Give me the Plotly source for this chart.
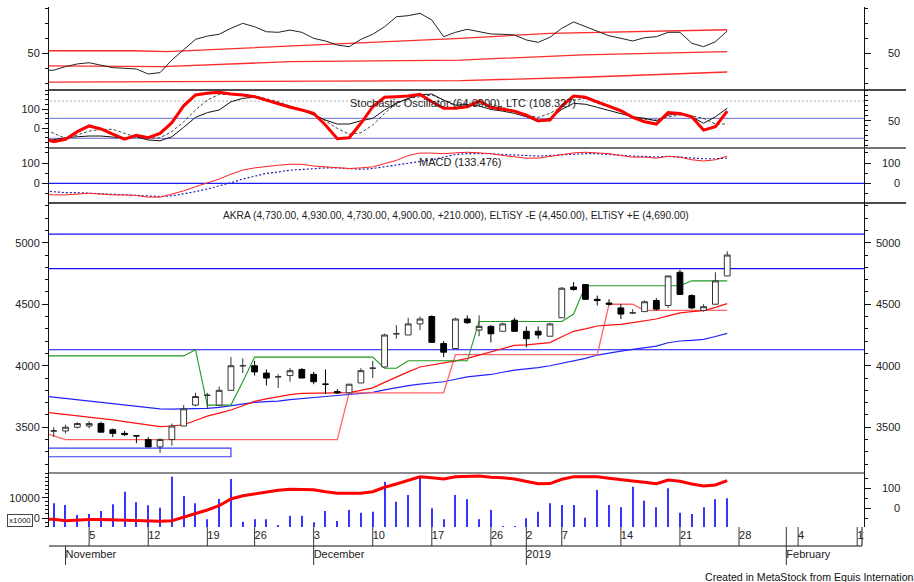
import plotly.graph_objects as go
from datetime import date

FONT = "Liberation Sans, Arial, sans-serif"
W, H = 914, 582

# ---------------- data ----------------
pre_date = "2018-10-30"
bar_dates = [
    "2018-10-31", "2018-11-01", "2018-11-02", "2018-11-05", "2018-11-06", "2018-11-07", "2018-11-08",
    "2018-11-09", "2018-11-12", "2018-11-13", "2018-11-14", "2018-11-15", "2018-11-16", "2018-11-19",
    "2018-11-21", "2018-11-22", "2018-11-23", "2018-11-26", "2018-11-27", "2018-11-28", "2018-11-29",
    "2018-11-30", "2018-12-03", "2018-12-04", "2018-12-05", "2018-12-06", "2018-12-07", "2018-12-10",
    "2018-12-11", "2018-12-12", "2018-12-13", "2018-12-14", "2018-12-17", "2018-12-18", "2018-12-19",
    "2018-12-20", "2018-12-21", "2018-12-26", "2018-12-27", "2018-12-28", "2019-01-02", "2019-01-03",
    "2019-01-04", "2019-01-07", "2019-01-08", "2019-01-09", "2019-01-10", "2019-01-11", "2019-01-14",
    "2019-01-15", "2019-01-16", "2019-01-17", "2019-01-18", "2019-01-21", "2019-01-22", "2019-01-23",
    "2019-01-24", "2019-01-25",
]
future_dates = ["2019-01-28", "2019-01-29", "2019-01-30", "2019-01-31", "2019-02-01", "2019-02-04",
                "2019-02-05", "2019-02-06", "2019-02-07", "2019-02-08", "2019-02-11"]

open_ = [3470, 3470, 3500, 3510, 3530, 3480, 3450, 3430, 3400, 3340,
         3400, 3510, 3680, 3760, 3680, 3800, 4000, 4000, 3940, 3910,
         3920, 3970, 3930, 3850, 3790, 3780, 3860, 3980, 3990, 4260,
         4250, 4340, 4400, 4180, 4140, 4380, 4290, 4320, 4280, 4370,
         4280, 4280, 4240, 4390, 4640, 4660, 4540, 4510, 4470, 4430,
         4440, 4530, 4490, 4760, 4570, 4450, 4500, 4730]
high = [3500, 3520, 3540, 3550, 3545, 3490, 3470, 3430, 3420, 3410,
        3530, 3680, 3780, 3780, 3830, 4070, 4060, 4040, 3970, 3930,
        3980, 3980, 3950, 3970, 3810, 3850, 3980, 4040, 4260, 4330,
        4390, 4400, 4410, 4200, 4390, 4410, 4410, 4330, 4350, 4390,
        4320, 4320, 4350, 4640, 4680, 4660, 4570, 4540, 4500, 4460,
        4530, 4550, 4730, 4780, 4580, 4500, 4760, 4930]
low = [3420, 3450, 3490, 3490, 3460, 3420, 3430, 3370, 3340, 3290,
       3350, 3510, 3670, 3650, 3670, 3800, 3940, 3920, 3840, 3820,
       3870, 3900, 3850, 3770, 3770, 3770, 3860, 3900, 3990, 4220,
       4250, 4290, 4190, 4070, 4140, 4340, 4240, 4190, 4280, 4280,
       4150, 4220, 4240, 4390, 4610, 4540, 4490, 4490, 4380, 4420,
       4440, 4450, 4470, 4580, 4460, 4440, 4500, 4730]
close = [3470, 3500, 3530, 3530, 3460, 3450, 3440, 3430, 3340, 3400,
         3510, 3650, 3750, 3760, 3800, 4000, 4000, 3950, 3900, 3910,
         3960, 3900, 3870, 3850, 3780, 3850, 3960, 3980, 4250, 4260,
         4340, 4380, 4190, 4110, 4380, 4350, 4320, 4260, 4340, 4280,
         4220, 4250, 4340, 4630, 4620, 4540, 4530, 4500, 4420, 4430,
         4520, 4460, 4730, 4580, 4470, 4480, 4690, 4900]

# volume, read on the left volume scale (x1000)
volume = [7280, 6440, 1490, 1980, 3470, 6780, 13020, 7770, 6290, 5100,
          20450, 10890, 7280, -640, 9410, 19310, -1830, -640, -640, -3810,
          1140, 1140, -2130, 3470, -1480, 3960, 2620, 3120, 17970, 8070,
          11390, 20150, 4800, -640, 11390, 9260, -640, 3960, -4200, -3960,
          -150, 3120, 7280, 6440, 6440, 150, 13860, 6440, 5300, 15500,
          8570, 5300, 14700, 2620, 1980, 5300, 9260, 9750]
# series below start at pre_date (one value before the first bar)
vol_line = [-53.5, -55, -62, -58.5, -56, -56, -58.5, -61, -61, -63.5, -65,
            -62, -45, -25, -8.5, 13, 46.5, 63, 73, 80, 90,
            95, 95, 93, 83, 75, 75, 75, 83, 105, 121.5,
            138, 158, 153, 146.5, 158, 161.5, 161.5, 155, 153, 146.5,
            133, 123, 123.5, 145, 158, 158, 158, 150, 141.5, 136.5,
            130, 123, 141.5, 135, 121.5, 111.5, 116.5, 138]
osc_top = [38.7, 38.7, 41.1, 42.9, 43.7, 42.2, 40.4, 40.0, 39.5, 36.2, 37.1,
           45.5, 52.7, 59.3, 61.5, 62.7, 66.7, 70.0, 67.7, 64.4, 64.0,
           65.5, 64.0, 60.0, 58.2, 55.5, 54.4, 59.3, 62.7, 67.7, 74.4,
           75.1, 76.7, 72.2, 61.1, 64.0, 66.0, 64.4, 62.9, 62.7, 62.2,
           58.9, 57.3, 60.7, 66.7, 70.9, 67.7, 64.4, 61.7, 60.0, 58.2,
           60.4, 61.1, 64.0, 64.0, 56.7, 54.4, 57.7, 64.9]
band_upper_x = [-1, 6.7, 9.6, 25.1, 34.4, 42, 57]
band_upper_y = [51.7, 51.7, 51.1, 56.7, 60.0, 63.3, 65.7]
band_mid_x = [-1, 9.2, 20, 34.4, 44.8, 57]
band_mid_y = [41.7, 41.1, 44.4, 45.5, 48.9, 51.1]
band_low_x = [-1, 9.2, 10.1, 34.4, 44.8, 57]
band_low_y = [30.7, 30.7, 31.1, 31.8, 34.0, 37.5]

stoch_k = [-51, -72, -59, -19, 11, -5, -32, -58, -38, -51, -28,
           28, 117, 174, 183, 188, 179, 174, 165, 147, 126,
           109, 95, 77, 16, -56, -51, 25, 112, 162, 165,
           168, 177, 138, 104, 104, 112, 142, 109, 98, 89,
           68, 38, 42, 116, 168, 162, 138, 116, 91, 56,
           33, 21, 81, 77, 59, -11, 7, 89]
ltc = [-72, -63, -51, -46, -42, -42, -46, -53, -46, -63, -67,
       -46, 4, 56, 81, 95, 138, 156, 162, 144, 126,
       116, 95, 68, 42, 21, 21, 38, 51, 95, 130,
       156, 174, 179, 147, 121, 121, 116, 98, 89, 77,
       59, 33, 51, 98, 130, 125, 109, 91, 74, 59,
       51, 38, 68, 77, 59, 25, 59, 104]
stoch_sig = [-2, -26, -54, -37, -16, -7, -7, -28, -49, -54, -51,
             -19, 33, 95, 147, 177, 177, 174, 170, 156, 138,
             116, 98, 77, 38, -2, -32, -25, 16, 77, 130,
             156, 165, 174, 147, 116, 133, 125, 126, 109, 86,
             68, 56, 77, 112, 147, 156, 130, 112, 86, 59,
             46, 42, 59, 68, 63, 51, 21, 21]
stoch_levels = [51, -54]
stoch_dotted = 142

macd = [-53, -57, -57, -53, -49, -53, -57, -57, -60, -68, -68,
        -53, -37, -17, 3, 21, 45, 65, 76, 84, 89,
        94, 94, 85, 81, 76, 73, 76, 81, 97, 113,
        137, 149, 149, 146, 150, 153, 150, 146, 137, 129,
        124, 124, 133, 142, 150, 153, 149, 146, 137, 129,
        129, 124, 133, 129, 116, 110, 116, 134]
macd_sig = [-37, -41, -46, -46, -49, -49, -53, -57, -60, -62, -65,
            -62, -53, -41, -28, -13, 3, 21, 35, 49, 56,
            65, 68, 73, 76, 76, 73, 69, 73, 81, 89,
            97, 105, 116, 129, 142, 146, 146, 146, 142, 141,
            137, 134, 137, 142, 146, 146, 146, 142, 137, 134,
            133, 129, 133, 129, 124, 121, 121, 124]

ma_red = [3625, 3615, 3605, 3590, 3580, 3570, 3560, 3545, 3530, 3515, 3505,
          3510, 3520, 3555, 3590, 3615, 3640, 3675, 3710, 3730, 3750,
          3765, 3775, 3778, 3780, 3780, 3782, 3800, 3820, 3865, 3910,
          3950, 3990, 4005, 4020, 4040, 4060, 4085, 4110, 4140, 4165,
          4170, 4178, 4188, 4236, 4280, 4300, 4323, 4330, 4336, 4350,
          4365, 4380, 4405, 4430, 4440, 4448, 4475, 4505]
ma_blue = [3755, 3745, 3735, 3725, 3715, 3705, 3695, 3685, 3672, 3660, 3650,
           3648, 3648, 3650, 3653, 3662, 3675, 3690, 3702, 3708, 3713,
           3725, 3735, 3743, 3750, 3758, 3767, 3775, 3783, 3804, 3824,
           3838, 3851, 3860, 3870, 3890, 3910, 3920, 3929, 3947, 3965,
           3975, 3984, 4000, 4019, 4040, 4060, 4087, 4106, 4119, 4133,
           4147, 4160, 4187, 4201, 4207, 4214, 4238, 4263]
eltisy_minus = [3460, 3430] + [3400] * 24 + [3780] * 9 + [4090] * 13 + [4500] * 3 + [4450] * 8
eltisy_plus = [4080] * 13 + [4130, 3680, 3680, 3680, 3870] + [4070] * 11 + [3980, 3980] + \
              [4040] * 6 + [4360] * 8 + [4420] + [4650] * 9 + [4690] * 4
price_levels = [5070, 4790, 4130]
box_idx = [-1, 15]
box_price = [3260, 3330]

# ---------------- geometry helpers ----------------
def py(p):
    return (H - p) / H

XL, XR = 49, 864
x_range = [-0.398, 68.576]
bar_x = list(range(len(bar_dates)))
line_x = list(range(-1, len(bar_dates)))

D1 = [py(90), py(7)]
D2 = [py(148), py(90)]
D3 = [py(203), py(148)]
D4 = [py(473), py(203)]
D5 = [py(527), py(473)]
D6 = [py(565), py(527)]

R1 = [25.5, 80.9]
R2 = [-105, 200]
R2r = [-4.6, 111.4]
R3 = [-97, 174]
R4 = [3128, 5323]
R5 = [-4455, 22277]
R5r = [-93.5, 176.5]

tickfont = dict(family=FONT, size=11, color="#222")


def yax(domain, rng, tickvals, minor_dtick, minor_tick0=0, side="left", overlay=None, labels=True):
    d = dict(domain=domain, range=rng, tickmode="array", tickvals=tickvals,
             ticktext=[str(v) for v in tickvals], ticks="outside", ticklen=6, tickwidth=1,
             tickcolor="#111", showline=True, linecolor="#111", linewidth=1, showgrid=False,
             zeroline=False, tickfont=tickfont, showticklabels=labels, side=side, anchor="x",
             fixedrange=True,
             minor=dict(ticks="outside", ticklen=3, tickcolor="#111", tickmode="linear",
                        tick0=minor_tick0, dtick=minor_dtick, showgrid=False))
    if overlay:
        d["overlaying"] = overlay
    return d


fig = go.Figure()
N = len(bar_dates)
xfull = [-1, N + 12]

# ---- panel 1 ----
for bx, by in [(band_upper_x, band_upper_y), (band_mid_x, band_mid_y), (band_low_x, band_low_y)]:
    fig.add_trace(go.Scatter(x=bx, y=by, mode="lines", line=dict(color="#ff2a2a", width=1.3),
                             xaxis="x", yaxis="y"))
fig.add_trace(go.Scatter(x=line_x, y=osc_top, mode="lines", line=dict(color="#222", width=1),
                         xaxis="x", yaxis="y"))

# ---- panel 2 ----
for lv in stoch_levels:
    fig.add_trace(go.Scatter(x=xfull, y=[lv, lv], mode="lines", line=dict(color="#6b6bdc", width=1),
                             xaxis="x", yaxis="y2"))
fig.add_trace(go.Scatter(x=xfull, y=[stoch_dotted, stoch_dotted], mode="lines",
                         line=dict(color="#b0b0b0", width=1, dash="2px,2px"), xaxis="x", yaxis="y2"))
fig.add_trace(go.Scatter(x=line_x, y=stoch_sig, mode="lines",
                         line=dict(color="#444", width=1, dash="3px,2px"), xaxis="x", yaxis="y2"))
fig.add_trace(go.Scatter(x=line_x, y=ltc, mode="lines", line=dict(color="#111", width=1),
                         xaxis="x", yaxis="y2"))
fig.add_trace(go.Scatter(x=line_x, y=stoch_k, mode="lines", line=dict(color="#ff0000", width=3),
                         xaxis="x", yaxis="y2"))

# ---- panel 3 ----
fig.add_trace(go.Scatter(x=xfull, y=[0, 0], mode="lines", line=dict(color="#1a1aff", width=1.2),
                         xaxis="x", yaxis="y3"))
fig.add_trace(go.Scatter(x=line_x, y=macd_sig, mode="lines",
                         line=dict(color="#2020b0", width=1.2, dash="2px,2px"), xaxis="x", yaxis="y3"))
fig.add_trace(go.Scatter(x=line_x, y=macd, mode="lines", line=dict(color="#ff2020", width=1),
                         xaxis="x", yaxis="y3"))

# ---- panel 4 ----
for lv in price_levels:
    fig.add_trace(go.Scatter(x=xfull, y=[lv, lv], mode="lines", line=dict(color="#1010ff", width=1.2),
                             xaxis="x", yaxis="y4"))
fig.add_trace(go.Scatter(x=[box_idx[0], box_idx[1], box_idx[1], box_idx[0]],
                         y=[box_price[1], box_price[1], box_price[0], box_price[0]],
                         mode="lines", line=dict(color="#3a3aff", width=1.2), xaxis="x", yaxis="y4"))
fig.add_trace(go.Scatter(x=line_x, y=ma_blue, mode="lines", line=dict(color="#2222ff", width=1.2),
                         xaxis="x", yaxis="y4"))
fig.add_trace(go.Scatter(x=line_x, y=eltisy_minus, mode="lines", line=dict(color="#ff6464", width=1.3),
                         xaxis="x", yaxis="y4"))
fig.add_trace(go.Scatter(x=line_x, y=ma_red, mode="lines", line=dict(color="#ff1010", width=1.2),
                         xaxis="x", yaxis="y4"))
fig.add_trace(go.Scatter(x=line_x, y=eltisy_plus, mode="lines", line=dict(color="#1f9a1f", width=1.1),
                         xaxis="x", yaxis="y4"))
fig.add_trace(go.Candlestick(x=bar_x, open=open_, high=high, low=low, close=close,
                             increasing=dict(line=dict(color="#333", width=1), fillcolor="white"),
                             decreasing=dict(line=dict(color="#000", width=1), fillcolor="black"),
                             whiskerwidth=0, xaxis="x", yaxis="y9"))

# ---- panel 5 ----
fig.add_trace(go.Bar(x=bar_x, y=[v - R5[0] for v in volume], base=R5[0], width=0.09,
                     marker=dict(color="#3535ff", line=dict(width=0)), xaxis="x", yaxis="y5"))
fig.add_trace(go.Scatter(x=line_x, y=vol_line, mode="lines", line=dict(color="#ff0000", width=3),
                         xaxis="x", yaxis="y10"))

# ---- date strip ----
all_dates = [pre_date] + bar_dates + future_dates
week_idx, week_lab, month_idx, month_lab = [], [], [], []
for k in range(1, len(all_dates)):
    d0 = date.fromisoformat(all_dates[k - 1])
    d1 = date.fromisoformat(all_dates[k])
    i = k - 1
    if d1.isocalendar()[1] != d0.isocalendar()[1]:
        week_idx.append(i)
        week_lab.append(str(d1.day))
    if d1.month != d0.month:
        month_idx.append(i)
        month_lab.append(str(d1.year) if d1.month == 1 else d1.strftime("%B"))

fig.add_trace(go.Scatter(x=week_idx, y=[1.5] * len(week_idx), mode="text", text=week_lab,
                         textposition="middle right", cliponaxis=True,
                         textfont=dict(family=FONT, size=11, color="#222"), xaxis="x", yaxis="y11"))
fig.add_trace(go.Scatter(x=month_idx, y=[0.5] * len(month_idx), mode="text", text=month_lab,
                         textposition="middle right", cliponaxis=True,
                         textfont=dict(family=FONT, size=11, color="#222"), xaxis="x", yaxis="y11"))

shapes = []
xr_edge = x_range[0] + (862 - XL) / (XR - XL) * (x_range[1] - x_range[0])
shapes.append(dict(type="line", xref="x", yref="y11", x0=x_range[0], x1=xr_edge, y0=1, y1=1,
                   line=dict(color="#111", width=1)))
shapes.append(dict(type="line", xref="x", yref="y11", x0=xr_edge, x1=xr_edge, y0=1, y1=2,
                   line=dict(color="#111", width=1)))
for wi in week_idx:
    shapes.append(dict(type="line", xref="x", yref="y11", x0=wi, x1=wi, y0=1, y1=2,
                       line=dict(color="#333", width=1)))
for mi in month_idx:
    top = 2 if mi >= N else 1
    shapes.append(dict(type="line", xref="x", yref="y11", x0=mi, x1=mi, y0=0, y1=top,
                       line=dict(color="#333", width=1)))
# panel separators
for yp, col, wd in [(90, "#111", 1.3), (148, "#444", 1.5), (203, "#111", 1.3)]:
    shapes.append(dict(type="line", xref="paper", yref="paper", x0=XL / W, x1=906 / W,
                       y0=py(yp), y1=py(yp), line=dict(color=col, width=wd)))
shapes.append(dict(type="line", xref="paper", yref="paper", x0=XL / W, x1=XR / W,
                   y0=py(473), y1=py(473), line=dict(color="#8a8a8a", width=2.2)))

# ---- annotations ----
ann = []
ann.append(dict(text="AKRA (4,730.00, 4,930.00, 4,730.00, 4,900.00, +210.000), ELTiSY -E (4,450.00), ELTiSY +E (4,690.00)",
                x=221 / W, y=py(215), xref="paper", yref="paper", xanchor="left", yanchor="middle",
                showarrow=False, font=dict(family=FONT, size=10.2, color="#222")))
ann.append(dict(text="Stochastic Oscillator (64.0000), LTC (108.327)", x=348 / W, y=py(103),
                xref="paper", yref="paper", xanchor="left", yanchor="middle", showarrow=False,
                font=dict(family=FONT, size=11, color="#222")))
ann.append(dict(text="MACD (133.476)", x=417 / W, y=py(162), xref="paper", yref="paper",
                xanchor="left", yanchor="middle", showarrow=False,
                font=dict(family=FONT, size=11, color="#222")))
ann.append(dict(text="Created in MetaStock from Equis International", x=703 / W, y=py(577),
                xref="paper", yref="paper", xanchor="left", yanchor="middle", showarrow=False,
                font=dict(family=FONT, size=10.6, color="#111")))
ann.append(dict(text="x1000", x=20 / W, y=py(520), xref="paper", yref="paper", xanchor="center",
                yanchor="middle", showarrow=False, font=dict(family=FONT, size=8, color="#222"),
                bordercolor="#444", borderwidth=1, borderpad=1))

right_labels = {"y6": [50], "y7": [50], "y8": [0, 100], "y9": [3500, 4000, 4500, 5000], "y10": [0, 100]}
for ax, vals in right_labels.items():
    for v in vals:
        ann.append(dict(text=str(v), x=902 / W, y=v, xref="paper", yref=ax, xanchor="right",
                        yanchor="middle", showarrow=False, font=tickfont))

fig.update_layout(
    width=W, height=H, margin=dict(l=0, r=0, t=0, b=0),
    paper_bgcolor="white", plot_bgcolor="white", showlegend=False, hovermode=False,
    xaxis=dict(domain=[XL / W, XR / W], range=x_range, showticklabels=False, ticks="",
               showgrid=False, zeroline=False, showline=False, anchor="y11",
               rangeslider=dict(visible=False), fixedrange=True),
    yaxis=yax(D1, R1, [50], 10),
    yaxis2=yax(D2, R2, [0, 100], 25),
    yaxis3=yax(D3, R3, [0, 100], 50),
    yaxis4=yax(D4, R4, [3500, 4000, 4500, 5000], 100),
    yaxis5=yax(D5, R5, [0, 10000], 2000),
    yaxis6=yax(D1, R1, [50], 10, side="right", overlay="y", labels=False),
    yaxis7=yax(D2, R2r, [50], 10, side="right", overlay="y2", labels=False),
    yaxis8=yax(D3, R3, [0, 100], 50, side="right", overlay="y3", labels=False),
    yaxis9=yax(D4, R4, [3500, 4000, 4500, 5000], 100, side="right", overlay="y4", labels=False),
    yaxis10=yax(D5, R5r, [0, 100], 50, side="right", overlay="y5", labels=False),
    yaxis11=dict(domain=D6, range=[0, 2], visible=False, anchor="x", fixedrange=True),
    shapes=shapes, annotations=ann,
)

fig.write_html("out.html")
